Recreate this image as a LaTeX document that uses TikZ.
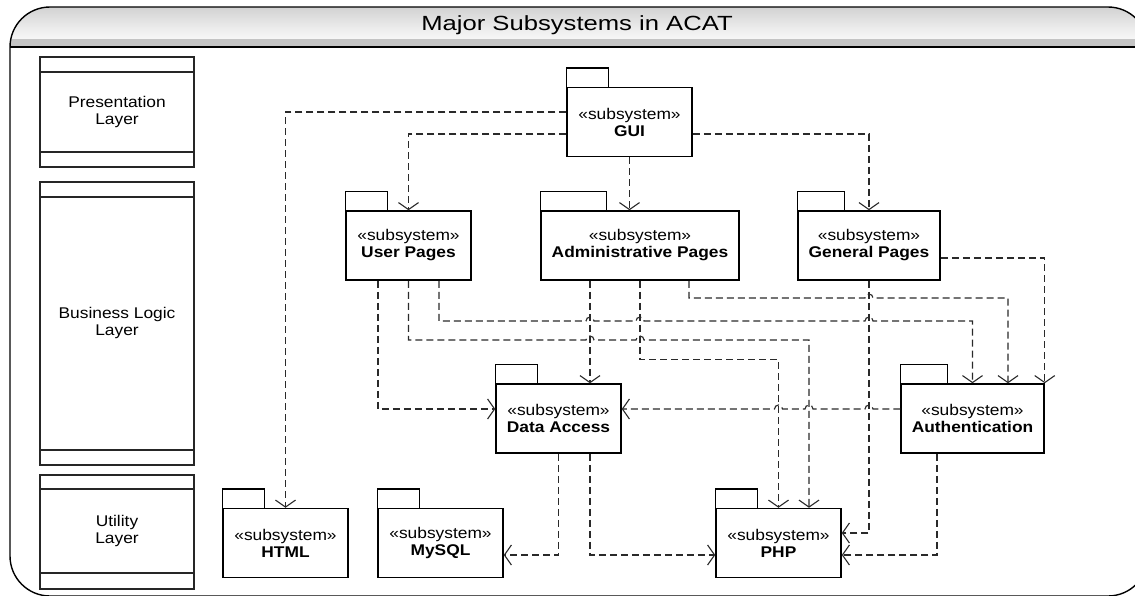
\documentclass[tikz,border=0pt]{standalone}
\usepackage{fontspec}
\setmainfont[FakeStretch=1.12]{Liberation Sans}
\newfontfamily\titlefont[FakeStretch=1.25]{Liberation Sans}
\usetikzlibrary{arrows.meta}
\definecolor{depgray}{HTML}{2A2A2A}
\definecolor{barband}{HTML}{C4C4C4}
\definecolor{bartop}{HTML}{D2D2D2}
\tikzset{
  pkgbody/.style={draw, line width=1.5pt, fill=white, minimum height=69pt, inner sep=0pt,
    align=center, font=\fontsize{15.5}{17}\selectfont},
  pkgtab/.style={draw, line width=1.5pt, fill=white},
  layerbox/.style={draw=black!85, line width=1.2pt},
  layertext/.style={align=center, font=\fontsize{15.5}{17}\selectfont},
  dep/.style={draw=depgray, line width=1.15pt, dash pattern=on 7pt off 4pt,
    -{Straight Barb[length=7pt,width=20pt,line width=1.1pt]}},
}
\newcommand{\subsys}[6]{%
  \node[pkgbody, minimum width=#4pt] (#1) at (#2,#3) {«subsystem»\\\textbf{#6}};
  \draw[pkgtab] (#1.north west) -- ++(0,-19) -- ++(#5,0) -- ([xshift=#5pt]#1.north west);
}
\begin{document}
\begin{tikzpicture}[x=1pt,y=-1pt]
\useasboundingbox (0,0) rectangle (1135,595);
\clip (0,0) rectangle (1135,595);
\fill[white] (0,0) rectangle (1135,595);
% title bar
\shade[top color=bartop, bottom color=white, middle color=white!92!black]
  (10,47) arc[start angle=180,end angle=90,radius=40pt] -- (1108,7)
  arc[start angle=90,end angle=0,radius=40pt] -- cycle;
\fill[barband] (10,39) rectangle (1148,47);
\draw[line width=1.4pt, rounded corners=40pt] (10,596) rectangle (1148,7);
\draw[line width=1.4pt] (10,47) -- (1148,47);
\node[font=\titlefont\fontsize{20.5}{22}\selectfont] (title) at (577,25) {Major Subsystems in ACAT};
% layers
\draw[layerbox] (40,57) rectangle (194,167);
\draw[layerbox] (40,72) -- (194,72) (40,152) -- (194,152);
\node[layertext] (pres) at (117,112) {Presentation\\Layer};
\draw[layerbox] (40,182) rectangle (194,465);
\draw[layerbox] (40,197) -- (194,197) (40,450) -- (194,450);
\node[layertext] (biz) at (117,323) {Business Logic\\Layer};
\draw[layerbox] (40,475) rectangle (194,589);
\draw[layerbox] (40,489) -- (194,489) (40,573) -- (194,573);
\node[layertext] (util) at (117,531) {Utility\\Layer};
% packages
\subsys{gui}{629.5}{122}{125}{42}{GUI}
\subsys{user}{408.5}{245.5}{125}{42}{User Pages}
\subsys{admin}{640}{245.5}{198}{66}{Administrative Pages}
\subsys{general}{869}{245.5}{142}{47}{General Pages}
\subsys{da}{558.5}{418.5}{125}{42}{Data Access}
\subsys{auth}{972.5}{418.5}{143}{47}{Authentication}
\subsys{html}{285.5}{543}{125}{42}{HTML}
\subsys{mysql}{440.5}{543}{125}{42}{MySQL}
\subsys{php}{778.5}{543}{125}{42}{PHP}
% dependencies
\draw[dep] ([yshift=10pt]gui.west) -| (html.north);
\draw[dep] ([yshift=-12pt]gui.west) -| (user.north);
\draw[dep] (gui.south) -- (gui.south |- admin.north);
\draw[dep] ([yshift=-12pt]gui.east) -| (general.north);
\draw[dep] ([xshift=-30.5pt]user.south) |- ([yshift=9.5pt]da.west);
\draw[dep] ([xshift=30.5pt]user.south) |- (586,321)
  arc[start angle=180,end angle=0,radius=4pt] -- (636,321)
  arc[start angle=180,end angle=0,radius=4pt] -- (865,321)
  arc[start angle=180,end angle=0,radius=4pt] -| (auth.north);
\draw[dep] (user.south) |- (586,340)
  arc[start angle=180,end angle=0,radius=4pt] -- (636,340)
  arc[start angle=180,end angle=0,radius=4pt] -| ([xshift=30.5pt]php.north);
\draw[dep] (admin.south) -- ++(0,79) -| (php.north);
\draw[dep] ([xshift=-50pt]admin.south) -- ([xshift=31.5pt]da.north);
\draw[dep] ([xshift=49pt]admin.south) |- (865,298)
  arc[start angle=180,end angle=0,radius=4pt] -| ([xshift=35.5pt]auth.north);
\draw[dep] ([yshift=-12.5pt]general.east) -| (auth.north east);
\draw[dep] (general.south) |- ([yshift=10pt]php.east);
\draw[dep] ([yshift=9.5pt]auth.west) -- (873,409)
  arc[start angle=0,end angle=180,radius=4pt] -- (813,409)
  arc[start angle=0,end angle=180,radius=4pt] -- (782.5,409)
  arc[start angle=0,end angle=180,radius=4pt] -- ([yshift=9.5pt]da.east);
\draw[dep] (da.south) |- ([yshift=-12pt]mysql.east);
\draw[dep] ([xshift=31.5pt]da.south) |- ([yshift=-12pt]php.west);
\draw[dep] ([xshift=-35.5pt]auth.south) |- ([yshift=-12pt]php.east);
\end{tikzpicture}
\end{document}
